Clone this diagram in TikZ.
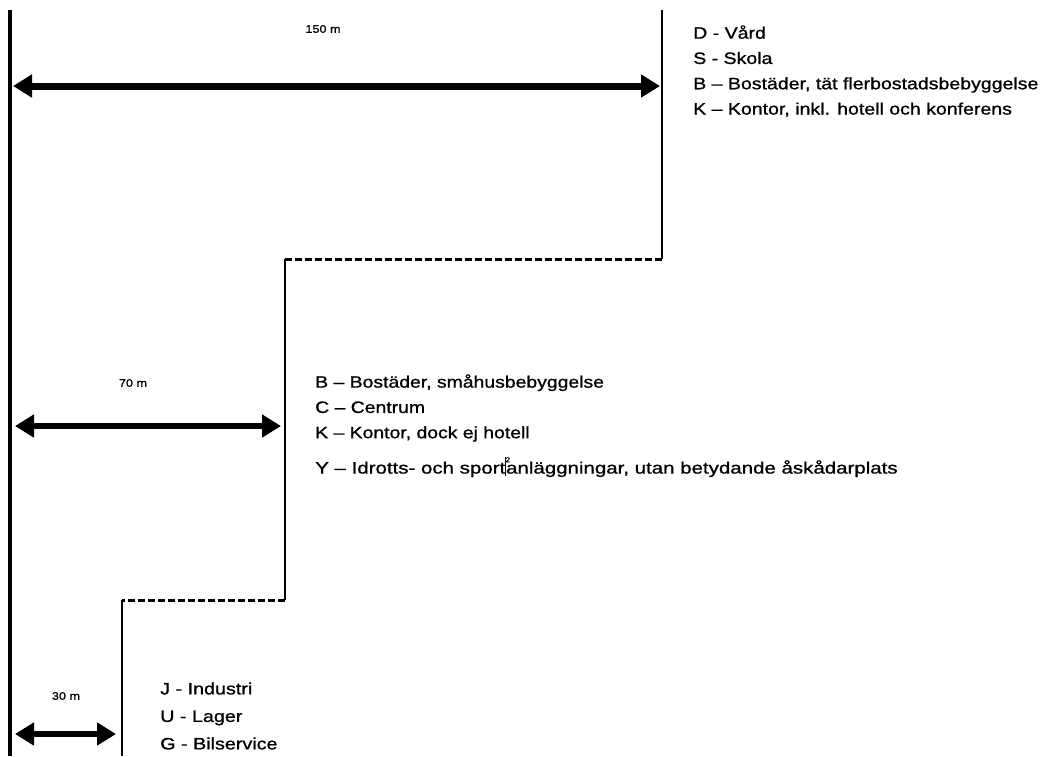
\documentclass[tikz,border=0pt]{standalone}
\usepackage{fontspec}
\setmainfont{Liberation Sans}[FakeBold=0.9]
\usetikzlibrary{arrows.meta}
\begin{document}
\begin{tikzpicture}[x=1pt,y=-1pt,
  wall/.style={line width=1.8pt},
  mainwall/.style={line width=3.2pt},
  limit/.style={line width=3pt,dash pattern=on 7pt off 3pt},
  dim/.style={line width=7pt,{Triangle[length=19pt,width=22pt]}-{Triangle[length=19pt,width=22pt]}},
  dimlabel/.style={font=\fontsize{11}{13}\selectfont,xscale=1.15,inner sep=0pt},
  list/.style={anchor=west,align=left,inner sep=0pt,xscale=1.22,font=\fontsize{16.5}{25.3}\selectfont}
]
\useasboundingbox (0,0) rectangle (1047,756);
% left wall
\coordinate (lt) at (10,10);
\coordinate (lb) at (10,756);
\draw[mainwall] (lt) -- (lb);
% stepped limit
\coordinate (r1t) at (662,10);
\coordinate (r1b) at (662,259);
\coordinate (s1l) at (285,259);
\coordinate (s2r) at (285,600);
\coordinate (s2l) at (122,600);
\coordinate (r3b) at (122,756);
\draw[wall] (r1t) -- (r1b);
\draw[limit] (r1b) -- (s1l);
\draw[wall] (s1l) -- (s2r);
\draw[limit] (s2r) -- (s2l);
\draw[wall] (s2l) -- (r3b);
% dimension arrows
\coordinate (a1l) at (13,86);
\coordinate (a1r) at (660,86);
\coordinate (a2l) at (15,426);
\coordinate (a2r) at (281,426);
\coordinate (a3l) at (15,734);
\coordinate (a3r) at (116,734);
\draw[dim] (a1l) -- (a1r);
\draw[dim,line width=6.5pt] (a2l) -- (a2r);
\draw[dim,line width=6.5pt] (a3l) -- (a3r);
\node[dimlabel] (d150) at (323,29) {150 m};
\node[dimlabel] (d70) at (133,383) {70 m};
\node[dimlabel] (d30) at (66,696) {30 m};
% lists
\node[list,xscale=0.97] (t1) at (693,71) {D - Vård\\S - Skola\\B – Bostäder, tät flerbostadsbebyggelse\\K – Kontor, inkl. hotell och konferens};
\node[list,xscale=0.963] (t2a) at (315,408) {B – Bostäder, småhusbebyggelse\\C – Centrum\\K – Kontor, dock ej hotell};
\node[list,xscale=1.017] (t2b) at (315,467) {Y – Idrotts- och sport\rlap{\raisebox{1.3ex}{\fontsize{7}{8}\selectfont 2}}\rule[-0.3ex]{0.7pt}{2.2ex}anläggningar, utan betydande åskådarplats};
\node[list,xscale=0.98,font=\fontsize{16.5}{27.5}\selectfont] (t3) at (160,716) {J - Industri\\U - Lager\\G - Bilservice};
\end{tikzpicture}
\end{document}
